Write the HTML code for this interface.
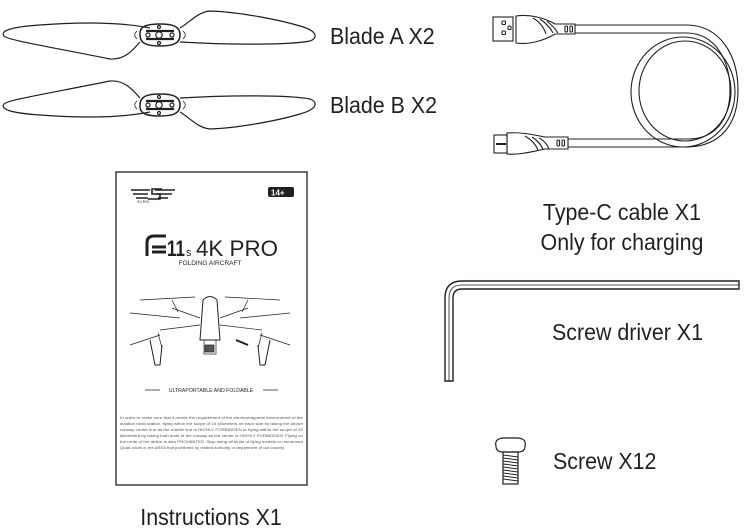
<!DOCTYPE html>
<html><head><meta charset="utf-8"><style>
html,body{margin:0;padding:0;background:#fff;}
body{width:745px;height:531px;position:relative;overflow:hidden;font-family:"Liberation Sans",sans-serif;color:#231f20;}
.t{position:absolute;font-size:23px;white-space:nowrap;transform:scaleX(0.93);transform-origin:left top;line-height:1;}
.c{transform-origin:center top;text-align:center;}
</style></head><body>
<svg width="745" height="531" style="position:absolute;left:0;top:0" fill="none" stroke="#231f20" stroke-width="1.2">
<g id="pa">
<path d="M150,28 C120,22 80,22 40,25 C10,27 0,31 4,36 C8,40 40,45 110,59 C125,60 133,50 140,42"/>
<path d="M180,28 C190,22 198,12 210,11 C240,12 280,20 300,26 C318,31 318,38 310,41 C290,45 230,45 180,42"/>
<path d="M140,33 C140,26 148,24 160,24 C172,24 180,26 180,35 C180,44 172,46 160,46 C148,46 140,44 140,35Z" stroke-width="1.5"/>
<path d="M146,31 L174,31 M146,39 L174,39" stroke-width="2.2"/>
<circle cx="148" cy="35" r="2"/><circle cx="159" cy="35" r="3.2"/><circle cx="172" cy="35" r="2"/>
<circle cx="159" cy="27" r="1.5"/><circle cx="159" cy="43" r="1.5"/>
<path d="M137,31 C134,34 134,36 137,39 M183,31 C186,34 186,36 183,39" stroke-width="0.8"/>
</g>
<use href="#pa" transform="translate(0,140) scale(1,-1)" />
<g stroke-width="1.1">
<rect x="493" y="17" width="20" height="24"/>
<rect x="502" y="21" width="3.5" height="3.5" rx="1"/><rect x="502" y="31" width="3.5" height="3.5" rx="1"/><rect x="508" y="26" width="3" height="3.5" rx="1"/>
<path d="M516,16 C530,14 545,18 555,24 L575,24 L575,34 L555,34 C545,40 530,45 516,43 Z"/>
<path d="M533,18 C540,22 544,28 546,34 M540,19 C547,24 551,29 553,33 M547,21 C553,26 556,30 558,33"/>
<rect x="565" y="26" width="2.5" height="6" rx="1"/><rect x="570" y="26" width="2.5" height="6" rx="1"/>
<path d="M575,25 L688,25 C720,26 738,55 738,90 C738,125 720,146 688,147 L568,147"/>
<path d="M575,33 L688,33 C715,34 730,60 730,90 C730,120 715,139 688,139 L568,139"/>
<ellipse cx="683" cy="92" rx="52" ry="55"/>
<ellipse cx="685" cy="91" rx="46" ry="50"/>
<rect x="494" y="135" width="13" height="18"/>
<path d="M496,144 L506,144" stroke-width="2"/>
<path d="M507,133 C520,132 530,134 545,137 L568,137 L568,149 L545,149 C530,152 520,155 507,154 Z"/>
<path d="M525,136 C532,140 536,145 538,150 M532,137 C538,141 542,146 543,150 M539,138 C545,141 548,146 549,149"/>
<rect x="557" y="140" width="2.5" height="6" rx="1"/><rect x="562" y="140" width="2.5" height="6" rx="1"/>
</g>
<path d="M445,381 L445,298 Q445,281 462,281 L739,281 L739,289 L462,289 Q453,289 453,298 L453,381 Z" stroke-width="1.4"/>
<path d="M449,381 L449,298 Q449,285 462,285 L739,285" stroke-width="0.8"/>
<path d="M496,446 Q494,439 503,438 L518,438 Q527,439 525,446 Q525,452 518,452 L503,452 Q496,452 496,446Z" stroke-width="1.2"/>
<rect x="503" y="452" width="15" height="32" stroke-width="1.2"/>
<path d="M503,455 L518,457 M503,458 L518,460 M503,461 L518,463 M503,464 L518,466 M503,467 L518,469 M503,470 L518,472 M503,473 L518,475 M503,476 L518,478 M503,479 L518,481" stroke-width="1"/>
<rect x="116" y="172" width="191" height="313" stroke-width="1.3"/>
<g stroke-width="1.6">
<path d="M131,190 L150,190 M133,194 L148,194 M136,198 L148,198 M155,190 L175,190 M156,194 L172,194 M158,198 L168,198"/>
<path d="M162,189 L152,189 L152,194 L160,194 L160,199 L148,199"/>
</g>
<rect x="268" y="187" width="26" height="10" rx="2" fill="#231f20" stroke="none"/>
<text x="271" y="195.5" font-size="8" fill="#fff" stroke="none" font-family="Liberation Sans" font-weight="bold">14+</text>
<text x="137" y="203" font-size="4" fill="#231f20" stroke="none" font-family="Liberation Sans">SJ R/C</text>
<path d="M147,256 L147,243 Q147,236 154,236 L166,236 M152,247 L166,247 M152,252 L166,252" stroke-width="3"/>
<text x="167" y="256" font-size="22" fill="#231f20" stroke="none" font-family="Liberation Sans" font-weight="bold" textLength="18" lengthAdjust="spacingAndGlyphs">11</text>
<text x="186" y="256" font-size="11" fill="#231f20" stroke="none" font-family="Liberation Sans">s</text>
<text x="196" y="256" font-size="22" fill="#231f20" stroke="none" font-family="Liberation Sans" textLength="82" lengthAdjust="spacingAndGlyphs">4K PRO</text>
<text x="210" y="265" font-size="6.5" fill="#231f20" stroke="none" font-family="Liberation Sans" text-anchor="middle">FOLDING AIRCRAFT</text>
<g stroke-width="0.7">
<path d="M203,300 Q210,293 217,300 L220,340 L200,340 Z" stroke-width="1"/>
<rect x="204" y="340" width="12" height="14"/>
<rect x="205" y="345" width="9" height="7" fill="#555"/>
<path d="M200,318 L172,308 M200,325 L160,330 M220,318 L248,308 M220,325 L262,330"/>
<path d="M140,300 L195,297 M225,297 L280,300 M130,313 L180,318 M240,318 L290,313 M130,345 L160,335 M290,345 L260,335"/>
<path d="M172,300 L178,312 M248,300 L242,312 M158,333 L162,348 M262,333 L258,348"/>
<path d="M150,340 L155,365 L160,365 L162,345 M270,340 L265,365 L260,365 L258,345" stroke-width="1"/>
<path d="M236,340 L248,345" stroke-width="2"/>
</g>
<path d="M145,390 L160,390 M263,390 L278,390" stroke-width="0.8"/>
<text x="211" y="392" font-size="5.2" fill="#231f20" stroke="none" font-family="Liberation Sans" text-anchor="middle">ULTRAPORTABLE AND FOLDABLE</text>
<g font-size="3.6" fill="#555" stroke="none" font-family="Liberation Sans">
<text x="120" y="419" textLength="183" lengthAdjust="spacingAndGlyphs">In order to make sure that it meets the requirement of the electromagnetic environment of the</text>
<text x="120" y="425" textLength="183" lengthAdjust="spacingAndGlyphs">aviation radio station, flying within the scope of 10 kilometers on each side by taking the airport</text>
<text x="120" y="431" textLength="183" lengthAdjust="spacingAndGlyphs">runway center line as the middle line is HIGHLY FORBIDDEN or flying within the scope of 20</text>
<text x="120" y="437" textLength="183" lengthAdjust="spacingAndGlyphs">kilometers by taking both ends of the runway as the center is HIGHLY FORBIDDEN. Flying on</text>
<text x="120" y="443" textLength="183" lengthAdjust="spacingAndGlyphs">the route of the airline is also PROHIBITED. Stop using all kinds of flying models or unmanned</text>
<text x="120" y="449" textLength="165" lengthAdjust="spacingAndGlyphs">Quad-rotors in the AREA that prohibited by related authority or department of our country.</text>
</g>
</svg>
<div class="t" style="left:330px;top:25px;">Blade A X2</div>
<div class="t" style="left:330px;top:94px;">Blade B X2</div>
<div class="t c" style="left:522px;width:200px;top:201px;">Type-C cable X1</div>
<div class="t c" style="left:522px;width:200px;top:231px;">Only for charging</div>
<div class="t" style="left:552px;top:321px;">Screw driver X1</div>
<div class="t" style="left:553px;top:450px;">Screw X12</div>
<div class="t c" style="left:111px;width:200px;top:506px;">Instructions X1</div>
</body></html>
